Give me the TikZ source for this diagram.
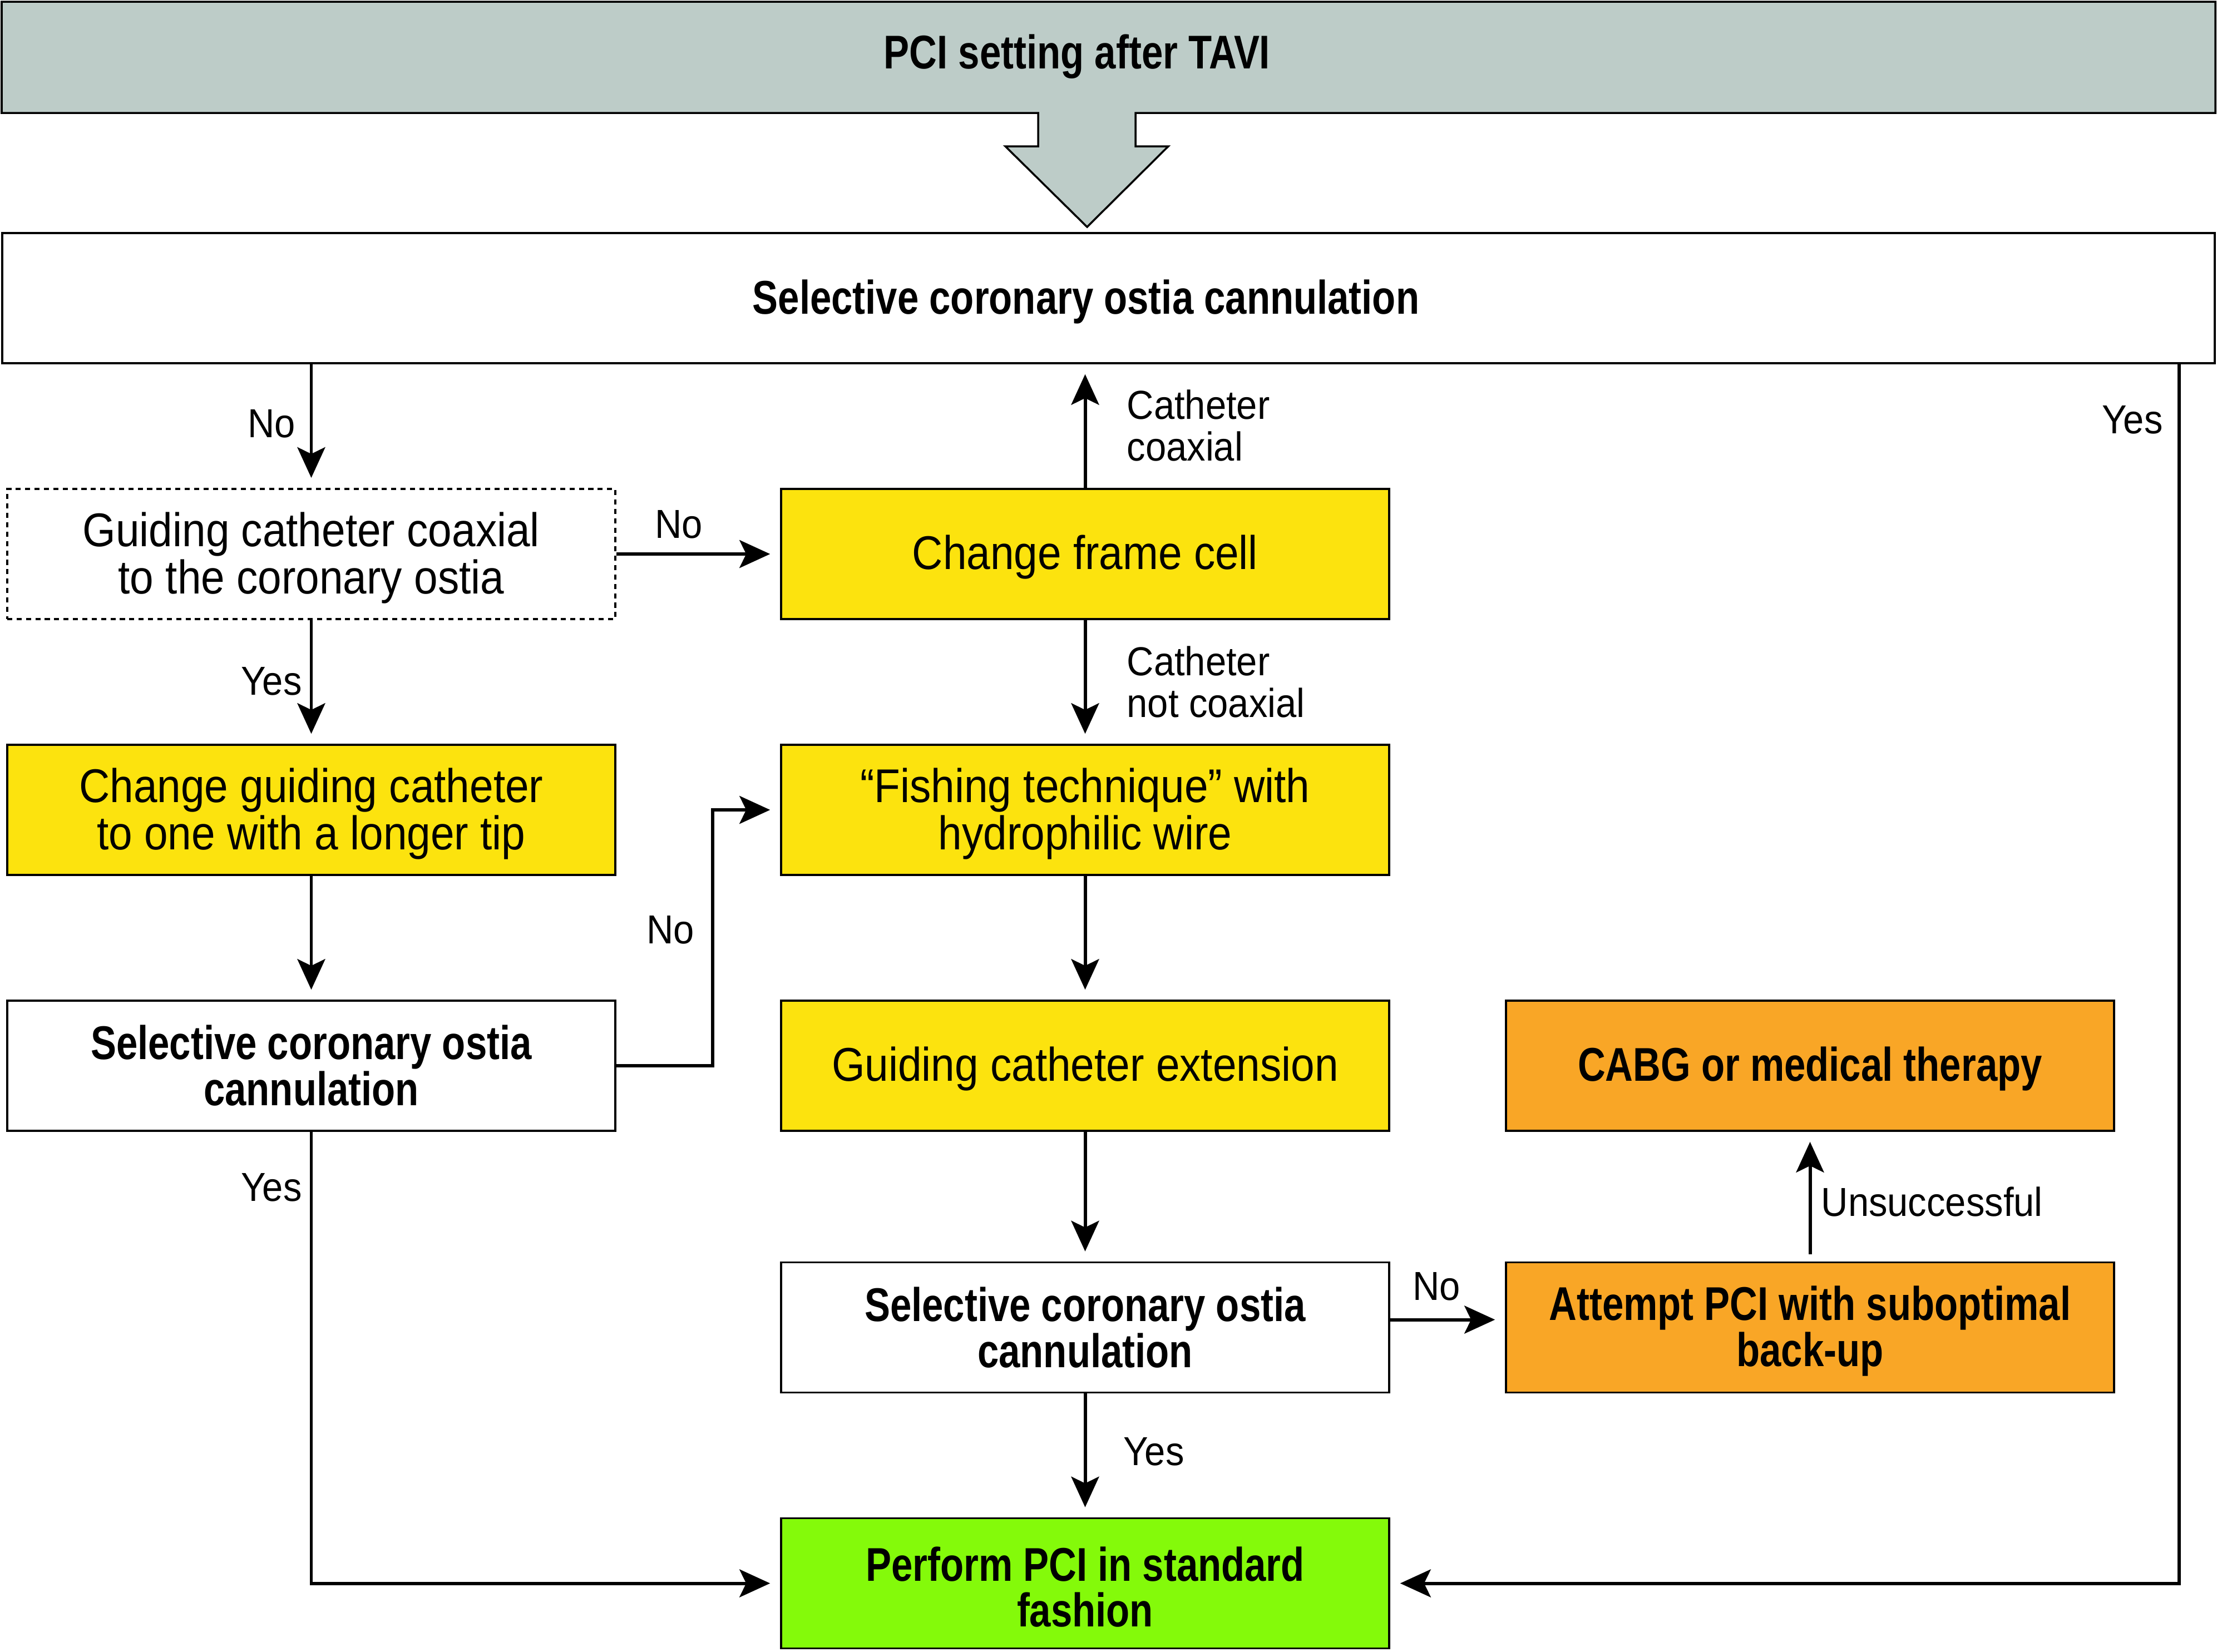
\documentclass[tikz,border=0pt]{standalone}
\usepackage{fontspec}
\setmainfont{Liberation Sans}[FakeStretch=0.90]
\newfontfamily\bfcond{Liberation Sans}[UprightFont={* Bold}, FakeStretch=0.81]
\newfontfamily\lblfont{Liberation Sans}[FakeStretch=0.92]
\usetikzlibrary{arrows.meta}
\definecolor{hdrgray}{RGB}{189,204,200}
\definecolor{ylw}{RGB}{252,227,14}
\definecolor{org}{RGB}{249,166,38}
\definecolor{grn}{RGB}{132,250,10}
\newcommand\tstrut{\rule{0pt}{\dimexpr 0.73em+3.6pt\relax}}
\begin{document}
\begin{tikzpicture}[
  box/.style={draw=black, line width=1pt, minimum width=10.93cm, minimum height=2.34cm, align=center, inner sep=0pt},
  onebox/.style={box, execute at begin node={\rule{0pt}{\dimexpr 0.73em+3.2pt\relax}}},
  regtxt/.style={font=\fontsize{24.2}{24.2}\selectfont},
  boldtxt/.style={font=\bfcond\fontsize{24.2}{23.6}\selectfont},
  hdrtxt/.style={font=\bfcond\fontsize{24.2}{24.2}\selectfont, inner sep=0pt},
  lbl/.style={font=\lblfont\fontsize{20.7}{21.3}\selectfont, inner sep=0pt, align=left},
  arr/.style={line width=1.7pt, -{Stealth[length=0.55cm, width=0.5cm, inset=0.12cm]}, shorten >=0.18cm},
  dotbox/.style={box, line width=1.1pt, dash pattern=on 2.6pt off 2.2pt},
]
\useasboundingbox (0,0) rectangle (39.85,-29.69);
% header with arrow
\filldraw[fill=hdrgray, draw=black, line width=1pt]
  (0.03,-0.03) -- (39.82,-0.03) -- (39.82,-2.03) -- (20.41,-2.03) -- (20.41,-2.63)
  -- (21.00,-2.63) -- (19.54,-4.08) -- (18.07,-2.63) -- (18.66,-2.63) -- (18.66,-2.03)
  -- (0.03,-2.03) -- cycle;
\node[hdrtxt, anchor=base] (hdr) at (19.36,-1.23) {PCI setting after TAVI};
% main box
\node[draw=black, line width=1pt, minimum width=39.77cm, minimum height=2.34cm, inner sep=0pt] (sel) at (19.925,-5.36) {};
\node[boldtxt, inner sep=0pt, anchor=base] (seltxt) at (19.52,-5.64) {Selective coronary ostia cannulation};
% boxes
\node[dotbox, regtxt] (dot) at (5.595,-9.96) {\tstrut Guiding catheter coaxial\\to the coronary ostia};
\node[onebox, regtxt, fill=ylw] (frame) at (19.505,-9.96) {Change frame cell};
\node[box, regtxt, fill=ylw] (chg) at (5.595,-14.56) {\tstrut Change guiding catheter\\to one with a longer tip};
\node[box, regtxt, fill=ylw] (fish) at (19.505,-14.56) {\tstrut “Fishing technique” with\\hydrophilic wire};
\node[box, boldtxt] (sell) at (5.595,-19.16) {Selective coronary ostia\\cannulation};
\node[onebox, regtxt, fill=ylw] (ext) at (19.505,-19.16) {Guiding catheter extension};
\node[onebox, boldtxt, fill=org] (cabg) at (32.535,-19.16) {CABG or medical therapy};
\node[box, boldtxt] (selm) at (19.505,-23.865) {Selective coronary ostia\\cannulation};
\node[box, boldtxt, fill=org] (att) at (32.535,-23.865) {\tstrut Attempt PCI with suboptimal\\back-up};
\node[box, boldtxt, fill=grn] (perf) at (19.505,-28.465) {\tstrut Perform PCI in standard\\fashion};
% connectors
\draw[arr] (sel.south -| dot.north) -- (dot.north);
\node[lbl] (l1) at (4.88,-7.62) {No};
\draw[arr] (dot.east) -- (frame.west);
\node[lbl] (l2) at (12.20,-9.43) {No};
\draw[arr] (frame.north) -- (frame.north |- sel.south);
\node[lbl, anchor=west] (l3) at (20.25,-7.65) {Catheter\\coaxial};
\draw[arr] (frame.south) -- (fish.north);
\node[lbl, anchor=west] (l4) at (20.25,-12.26) {Catheter\\not coaxial};
\draw[arr] (dot.south) -- (chg.north);
\node[lbl] (l5) at (4.88,-12.25) {Yes};
\draw[arr] (chg.south) -- (sell.north);
\coordinate (elb) at (12.81,-19.16);
\draw[arr] (sell.east) -- (elb) |- (fish.west);
\node[lbl] (l6) at (12.05,-16.72) {No};
\draw[arr] (fish.south) -- (ext.north);
\draw[arr] (ext.south) -- (selm.north);
\draw[arr] ([yshift=0.14cm]selm.east) -- ([yshift=0.14cm]att.west);
\node[lbl] (l7) at (25.82,-23.13) {No};
\draw[arr, shorten <=0.13cm] (att.north) -- (cabg.south);
\node[lbl, anchor=west] (l8) at (32.73,-21.60) {Unsuccessful};
\draw[arr] (selm.south) -- (perf.north);
\node[lbl] (l9) at (20.74,-26.10) {Yes};
\draw[arr] (sell.south) |- (perf.west);
\node[lbl] (l10) at (4.88,-21.35) {Yes};
\coordinate (rtx) at (39.17,0);
\draw[arr] (sel.south -| rtx) |- (perf.east);
\node[lbl] (l11) at (38.33,-7.55) {Yes};
\end{tikzpicture}
\end{document}
